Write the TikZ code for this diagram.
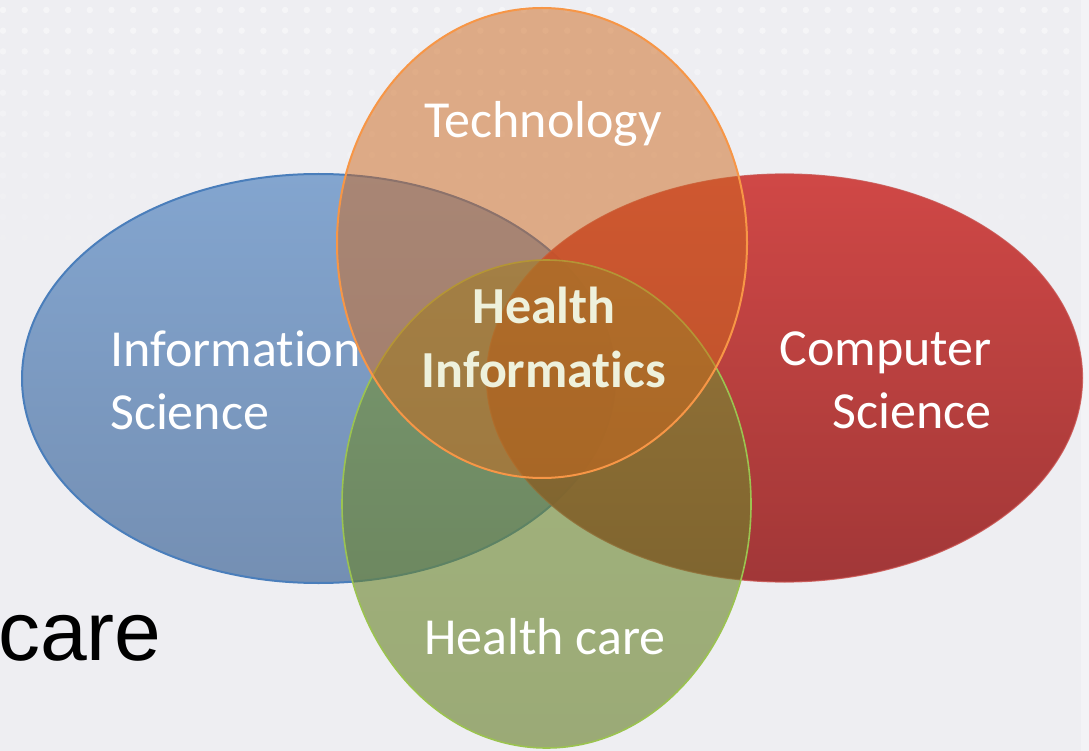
\documentclass[tikz,border=0pt]{standalone}
\usepackage{fontspec}
\setmainfont{Carlito}[Ligatures={NoCommon}]
\newfontfamily\arialfont{Liberation Sans}
\usetikzlibrary{shapes.geometric}
\definecolor{bgc}{RGB}{238,238,242}
\definecolor{bluetop}{RGB}{131,165,207}
\definecolor{bluebot}{RGB}{116,143,179}
\definecolor{blueline}{RGB}{74,126,187}
\definecolor{redtop}{RGB}{206,60,57}
\definecolor{redbot}{RGB}{156,42,42}
\definecolor{redline}{RGB}{200,80,77}
\definecolor{greentop}{RGB}{116,146,52}
\definecolor{greenbot}{RGB}{100,125,36}
\definecolor{greenline}{RGB}{155,195,80}
\definecolor{orangefill}{RGB}{206,104,28}
\definecolor{orangeline}{RGB}{247,150,70}
\definecolor{hicream}{RGB}{238,241,220}
\tikzset{
  venn/.style={ellipse, inner sep=0pt, line width=2pt},
  lbl/.style={inner sep=0pt, text=white, font=\fontsize{52}{63}\selectfont},
  dotmark/.style={fill=white, draw=none}
}
\begin{document}
\begin{tikzpicture}[x=1pt,y=-1pt]
\useasboundingbox (0,0) rectangle (1089,751);
\fill[bgc] (0,0) rectangle (1089,751);
\fill[white,opacity=0.35] (1081,0) rectangle (1089,751);
% faint dot pattern
\foreach \j in {0,...,11}{
  \pgfmathsetmacro{\op}{0.45-0.035*\j}
  \foreach \i in {0,...,49}{
    \fill[dotmark, opacity=\op] (3+21.7*\i,10+20.7*\j) circle (3.2);
  }
}
% ellipses
\node[venn, minimum width=593pt, minimum height=409pt, top color=bluetop, bottom color=bluebot, draw=blueline] (info) at (318.5,378.5) {};
\node[venn, minimum width=596pt, minimum height=408pt, top color=redtop, bottom color=redbot, draw=redline, line width=1.2pt, fill opacity=0.93, draw opacity=0.8] (comp) at (784.5,378) {};
\node[venn, minimum width=409pt, minimum height=488pt, top color=greentop, bottom color=greenbot, draw=greenline, line width=1.6pt, fill opacity=0.6] (care) at (546.5,504) {};
% text under technology ellipse, clipped by it
\begin{scope}[even odd rule]
  \clip (0,0) rectangle (1089,751) (542,243) ellipse [x radius=205, y radius=235];
  \node[lbl, anchor=base west, align=left] (infotext) at (110,429) {Information\\Science};
\end{scope}
\node[venn, minimum width=410pt, minimum height=470pt, fill=orangefill, fill opacity=0.5, draw=orangeline] (tech) at (542,243) {};
% labels
\node[lbl, anchor=base] (techtext) at (543,138) {Technology};
\node[lbl, anchor=base east, align=right] (comptext) at (992,428) {Computer\\Science};
\node[lbl, anchor=base] (caretext) at (545,654) {Health care};
\node[inner sep=0pt, anchor=base, align=center, text=hicream, font=\bfseries\fontsize{52}{64}\selectfont] (hi) at (544,387) {Health\\Informatics};
\node[inner sep=0pt, anchor=base west, text=black, font=\arialfont\fontsize{84}{96}\selectfont] (caretxt) at (-2,660) {care};
\end{tikzpicture}
\end{document}
